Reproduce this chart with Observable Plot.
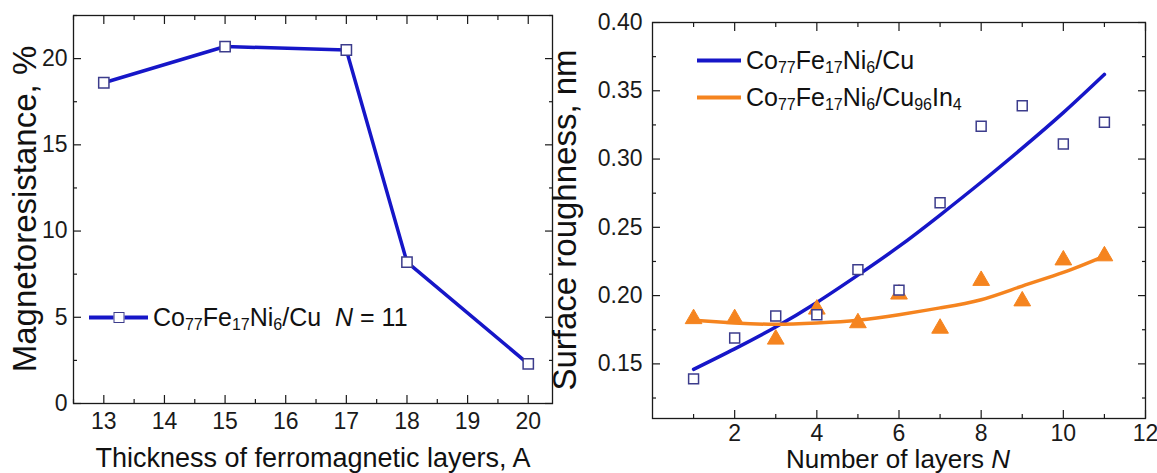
<!DOCTYPE html>
<html>
<head>
<meta charset="utf-8">
<script src="https://cdn.jsdelivr.net/npm/d3@7"></script>
<script src="https://cdn.jsdelivr.net/npm/@observablehq/plot@0.6"></script>
<style>
  html, body { margin: 0; padding: 0; background: #fff; }
  #wrap { position: relative; width: 1157px; height: 473px; overflow: hidden; font-family: "Liberation Sans", Arial, sans-serif; color: #111; }
  #wrap > svg, #wrap > .plot { position: absolute; top: 0; }
  .title { position: absolute; white-space: nowrap; font-size: 27px; line-height: 1; transform: translate(-50%, -50%); }
  .title.small { font-size: 26px; }
  .title.rot { font-size: 33px; transform: translate(-50%, -50%) rotate(-90deg); }
  .legend { position: absolute; white-space: nowrap; font-size: 25px; line-height: 1; display: flex; align-items: center; transform: translateY(-50%); }
  .legend .txt { display: inline-block; }
  .legend sub { font-size: 16px; position: relative; top: 4px; vertical-align: baseline; line-height: 0; }
  .swatch { position: relative; display: inline-block; height: 4px; margin-right: 5px; flex: none; }
  .swatch .sq { position: absolute; left: 50%; top: 50%; width: 9px; height: 9px; transform: translate(-50%, -50%); background: #fff; border: 1.5px solid #3c3c8c; }
</style>
</head>
<body>
<div id="wrap"></div>
<script>
// Magnetoresistance of Co77Fe17Ni6/Cu multilayers (N = 11) vs ferromagnetic layer thickness
const thickness = [13, 15, 17, 18, 20];
const magnetoresistance = [18.6, 20.7, 20.5, 8.2, 2.3];

// Surface roughness vs number of bilayers N
const layers = [1, 2, 3, 4, 5, 6, 7, 8, 9, 10, 11];
const roughnessCu = [0.139, 0.169, 0.185, 0.186, 0.219, 0.204, 0.268, 0.324, 0.339, 0.311, 0.327];
const roughnessCuIn = [0.183, 0.183, 0.168, 0.190, 0.180, 0.201, 0.176, 0.211, 0.196, 0.226, 0.229];
// fitted trend lines, sampled at each N
const fitCu = [0.146, 0.161, 0.177, 0.195, 0.215, 0.236, 0.259, 0.283, 0.308, 0.334, 0.362];
const fitCuIn = [0.182, 0.180, 0.179, 0.180, 0.182, 0.186, 0.191, 0.197, 0.207, 0.217, 0.229];

// tick values
const mrXMajor = [13, 14, 15, 16, 17, 18, 19, 20];
const mrXMinor = [12.5, 13.5, 14.5, 15.5, 16.5, 17.5, 18.5, 19.5];
const mrYMajor = [0, 5, 10, 15, 20];
const mrYMinor = [2.5, 7.5, 12.5, 17.5, 22.5];
const rXMajor = [2, 4, 6, 8, 10, 12];
const rXMinor = [1, 3, 5, 7, 9, 11];
const rYMajor = [0.15, 0.20, 0.25, 0.30, 0.35, 0.40];
const rYMinor = [0.125, 0.175, 0.225, 0.275, 0.325, 0.375];

const BLUE = "#1616c8";
const NAVY = "#3c3c8c";
const ORANGE = "#f5841f";
const INK = "#1a1a1a";

const mr = thickness.map((t, i) => ({t, v: magnetoresistance[i]}));
const rough = layers.map((n, i) => ({n, cu: roughnessCu[i], cuIn: roughnessCuIn[i], fCu: fitCu[i], fCuIn: fitCuIn[i]}));

const none = () => "";

// inward ticks on all four sides of the frame
function boxTicks({xMajor, xMinor, yMajor, yMinor, xFormat, yFormat, xPad, yPad}) {
  const common = {stroke: INK, strokeWidth: 1.2, label: null};
  return [
    Plot.axisX(xMajor, {...common, anchor: "bottom", tickSize: -8, tickPadding: 8 + xPad, tickFormat: xFormat}),
    Plot.axisX(xMinor, {...common, anchor: "bottom", tickSize: -4, tickFormat: none}),
    Plot.axisX(xMajor, {...common, anchor: "top", tickSize: -8, tickFormat: none}),
    Plot.axisX(xMinor, {...common, anchor: "top", tickSize: -4, tickFormat: none}),
    Plot.axisY(yMajor, {...common, anchor: "left", tickSize: -8, tickPadding: 8 + yPad, tickFormat: yFormat}),
    Plot.axisY(yMinor, {...common, anchor: "left", tickSize: -4, tickFormat: none}),
    Plot.axisY(yMajor, {...common, anchor: "right", tickSize: -8, tickFormat: none}),
    Plot.axisY(yMinor, {...common, anchor: "right", tickSize: -4, tickFormat: none}),
    Plot.frame({stroke: INK, strokeWidth: 1.3})
  ];
}

const style = {fontFamily: "'Liberation Sans', Arial, sans-serif", fontSize: "23px", color: INK, background: "transparent", overflow: "visible"};

const left = Plot.plot({
  width: 560, height: 473,
  marginLeft: 73, marginRight: 8, marginTop: 15, marginBottom: 70,
  style,
  x: {domain: [12.5, 20.4]},
  y: {domain: [0, 22.5]},
  marks: [
    ...boxTicks({xMajor: mrXMajor, xMinor: mrXMinor, yMajor: mrYMajor, yMinor: mrYMinor,
      xFormat: d3.format("d"), yFormat: d3.format("d"), xPad: 9, yPad: 6}),
    Plot.line(mr, {x: "t", y: "v", stroke: BLUE, strokeWidth: 3.5}),
    Plot.dot(mr, {x: "t", y: "v", symbol: "square", r: 5.8, fill: "#fff", stroke: NAVY, strokeWidth: 1.5})
  ]
});
left.style.left = "0px";

const right = Plot.plot({
  width: 617, height: 473,
  marginLeft: 112, marginRight: 12, marginTop: 22, marginBottom: 55,
  style,
  x: {domain: [0, 12]},
  y: {domain: [0.11, 0.40]},
  marks: [
    ...boxTicks({xMajor: rXMajor, xMinor: rXMinor, yMajor: rYMajor, yMinor: rYMinor,
      xFormat: d3.format("d"), yFormat: d3.format(".2f"), xPad: 6, yPad: 10}),
    Plot.line(rough, {x: "n", y: "fCu", stroke: BLUE, strokeWidth: 3.5, curve: "natural"}),
    Plot.line(rough, {x: "n", y: "fCuIn", stroke: ORANGE, strokeWidth: 3.5, curve: "natural"}),
    Plot.dot(rough, {x: "n", y: "cuIn", symbol: "triangle", r: 6.2, fill: ORANGE, stroke: ORANGE, strokeWidth: 1}),
    Plot.dot(rough, {x: "n", y: "cu", symbol: "square", r: 5.6, fill: "#fff", stroke: NAVY, strokeWidth: 1.5})
  ]
});
right.style.left = "540px";

const wrap = document.getElementById("wrap");
wrap.append(left, right);

// axis titles and legends
function addHTML(cls, html, css) {
  const el = document.createElement("div");
  el.className = cls;
  el.innerHTML = html;
  Object.assign(el.style, css);
  wrap.append(el);
  return el;
}
addHTML("title rot", "Magnetoresistance, %", {left: "24px", top: "209px"});
addHTML("title", "Thickness of ferromagnetic layers, A", {left: "313px", top: "458px"});
addHTML("title rot", "Surface roughness, nm", {left: "564px", top: "220px"});
addHTML("title small", "Number of layers <i>N</i>", {left: "898px", top: "459px"});

const sub = s => `<sub>${s}</sub>`;
const alloy = `Co${sub(77)}Fe${sub(17)}Ni${sub(6)}`;
addHTML("legend",
  `<span class="swatch" style="width:59px;background:${BLUE}"><span class="sq"></span></span><span class="txt">${alloy}/Cu&nbsp;&nbsp;<i>N</i>&nbsp;=&nbsp;11</span>`,
  {left: "89px", top: "317px"});
addHTML("legend",
  `<span class="swatch" style="width:44px;background:${BLUE}"></span><span class="txt">${alloy}/Cu</span>`,
  {left: "697px", top: "60px"});
addHTML("legend",
  `<span class="swatch" style="width:44px;background:${ORANGE}"></span><span class="txt">${alloy}/Cu${sub(96)}In${sub(4)}</span>`,
  {left: "697px", top: "97px"});
</script>
</body>
</html>
